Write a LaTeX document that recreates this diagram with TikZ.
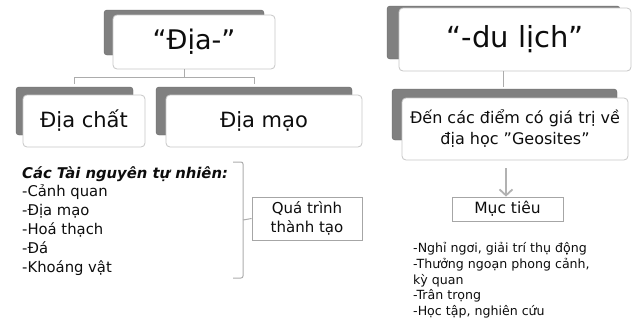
\documentclass[tikz,border=0pt]{standalone}
\usepackage{fontspec}
\setmainfont{DejaVu Sans}
\usetikzlibrary{arrows.meta}
\definecolor{shade}{gray}{0.5}
\definecolor{edge}{gray}{0.78}
\definecolor{ink}{gray}{0.05}
\begin{document}
\begin{tikzpicture}[x=1pt,y=-1pt,
  shadowbox/.style={fill=shade, draw=shade!80!black, rounded corners=3pt},
  mainbox/.style={fill=white, draw=edge, line width=0.8pt, rounded corners=4pt, inner sep=0pt, text=ink},
  plainbox/.style={fill=white, draw=gray!70, line width=0.8pt, inner sep=0pt, text=ink, align=center},
  link/.style={draw=gray!65, line width=0.7pt},
  listtext/.style={anchor=north west, align=left, text=ink, inner sep=0pt}
]
\useasboundingbox (0,0) rectangle (633,325);
% shadows
\fill[shadowbox] (104,10) rectangle (264,55);
\fill[shadowbox] (16,87) rectangle (133,135);
\fill[shadowbox] (156,87) rectangle (352,135);
\fill[shadowbox] (387,6) rectangle (620,59);
\fill[shadowbox] (392,89) rectangle (617,140);
% main boxes
\node[mainbox, minimum width=162pt, minimum height=54pt, font=\fontsize{27}{30}\selectfont] (dia) at (194,42) {“Địa-”};
\node[mainbox, minimum width=122pt, minimum height=52pt, font=\fontsize{21}{24}\selectfont] (chat) at (84,121) {Địa chất};
\node[mainbox, minimum width=196pt, minimum height=52pt, font=\fontsize{21}{24}\selectfont] (mao) at (264,121) {Địa mạo};
\node[mainbox, minimum width=232pt, minimum height=63pt, font=\fontsize{29}{32}\selectfont] (dulich) at (515,39.5) {“-du lịch”};
\node[mainbox, minimum width=226pt, minimum height=62pt, align=center, font=\fontsize{16}{21}\selectfont] (den) at (515,129) {Đến các điểm có giá trị về\\địa học "Geosites"};
\node[plainbox, minimum width=111pt, minimum height=24pt, font=\fontsize{15.5}{17}\selectfont] (muc) at (507.5,209) {Mục tiêu};
\node[plainbox, minimum width=110pt, minimum height=43pt, font=\fontsize{15}{19}\selectfont] (qua) at (307,218.5) {Quá trình\\thành tạo};
% connectors
\coordinate (hub) at (184,77);
\draw[link] (dia.south -| hub) -- (hub);
\draw[link] (74,84) -- (74,77) -- (254,77) -- (254,84);
\draw[link] (dulich.south -| 503,0) -- (503,87);
\draw[draw=gray!60, line width=1.8pt, -{Straight Barb[length=6pt,width=13pt]}] (506,168) -- (muc.north -| 506,0);
% bracket
\coordinate (bt) at (233,162);
\coordinate (bb) at (233,278);
\draw[draw=gray!65, line width=1pt, rounded corners=2pt] (bt) -- (243,162) -- (243,278) -- (bb);
\draw[draw=gray!65, line width=1pt] (243,220) -- (qua.west);
% lists
\node[listtext, font=\fontsize{14.8}{18.8}\selectfont] (res) at (22,166) {\textbf{\textit{Các Tài nguyên tự nhiên:}}\\-Cảnh quan\\-Địa mạo\\-Hoá thạch\\-Đá\\-Khoáng vật};
\node[listtext, font=\fontsize{12.6}{15.8}\selectfont] (goal) at (413,242) {-Nghỉ ngơi, giải trí thụ động\\-Thưởng ngoạn phong cảnh,\\kỳ quan\\-Trân trọng\\-Học tập, nghiên cứu};
\end{tikzpicture}
\end{document}
